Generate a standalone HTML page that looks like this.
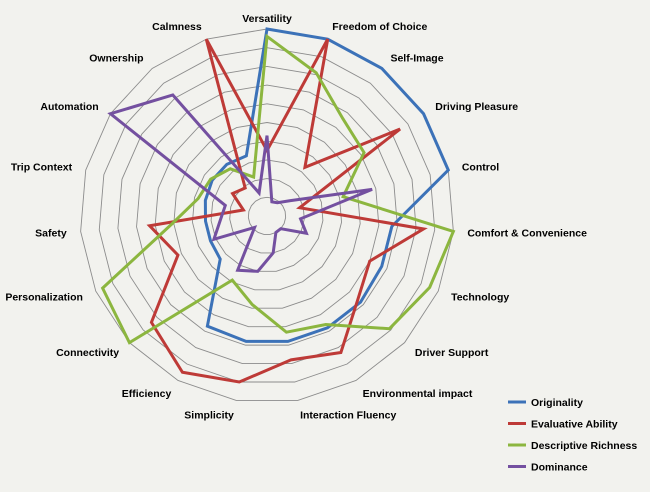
<!DOCTYPE html>
<html><head><meta charset="utf-8"><style>
body{margin:0;background:#f2f2ee;}
svg{display:block;font-family:"Liberation Sans",sans-serif;}
.lbl{font-size:10.5px;font-weight:bold;fill:#000;}
</style></head><body>
<svg id="chart" width="650" height="492" viewBox="0 0 650 492">
<rect width="650" height="492" fill="#f2f2ee"/>
<g id="grid"></g><g id="series"></g><g id="labels"></g><g id="legend"></g>
</svg>
<script>
const categories=["Versatility","Freedom of Choice","Self-Image","Driving Pleasure","Control","Comfort & Convenience","Technology","Driver Support","Environmental impact","Interaction Fluency","Simplicity","Efficiency","Connectivity","Personalization","Safety","Trip Context","Automation","Ownership","Calmness"];
const originality=[10,10,10,10,10,6.7,6.7,6.8,6.8,6.8,6.8,6.7,3.4,3.3,3.3,3.4,3.5,3.5,3.4];
const evaluative=[3.5,10,3.3,8.5,1.8,8.4,6.0,6.6,8.3,7.8,9.0,9.5,8.4,5.2,6.3,1.3,2.2,1.9,10];
const descriptive=[9.6,8.1,6.6,6.2,4.2,10,9.5,8.9,6.6,6.3,4.8,3.9,10,9.6,5.1,3.8,3.6,3.2,2.2];
const dominance=[4.3,0.8,0.9,1.5,5.8,1.8,2.3,1.0,1.0,2.0,3.0,3.3,0.9,3.1,2.5,2.3,10,8.2,1.3];
const seriesNames=["Originality","Evaluative Ability","Descriptive Richness","Dominance"];
const colors=["#3c72b8","#be3a37","#8cb63f","#7450a0"];
const maxVal=10;
const cx=267,cy=216,R=187,N=categories.length;
const NS="http://www.w3.org/2000/svg";
function ang(i){return (-90+i*360/N)*Math.PI/180;}
function pt(i,v){const r=v/maxVal*R;return [cx+r*Math.cos(ang(i)),cy+r*Math.sin(ang(i))];}
const grid=document.getElementById('grid');
for(let k=1;k<=10;k++){
  const p=document.createElementNS(NS,'polygon');
  
  
  p.setAttribute('points',categories.map((c,i)=>pt(i,k*maxVal/10).join(',')).join(' '));
  p.setAttribute('fill','none');p.setAttribute('stroke','#8c8c8c');p.setAttribute('stroke-width','0.9');
  grid.appendChild(p);
}
const sg=document.getElementById('series');
[originality,evaluative,descriptive,dominance].forEach((arr,s)=>{
  const p=document.createElementNS(NS,'polygon');
  
  
  p.setAttribute('points',arr.map((v,i)=>pt(i,v).join(',')).join(' '));
  p.setAttribute('fill','none');p.setAttribute('stroke',colors[s]);p.setAttribute('stroke-width','3');p.setAttribute('stroke-linejoin','miter');
  sg.appendChild(p);
});
const lg=document.getElementById('labels');
categories.forEach((c,i)=>{
  const a=ang(i);const r=R+14;
  let x=cx+r*Math.cos(a),y=cy+r*Math.sin(a)+4;
  const cs=Math.cos(a);
  let anchor='middle';
  if(cs>0.15)anchor='start';else if(cs<-0.15)anchor='end';
  if(i===0)y=cy-R-7;
  const t=document.createElementNS(NS,'text');
  
  
  t.setAttribute('class','lbl');t.setAttribute('x',x);t.setAttribute('y',y);t.setAttribute('text-anchor',anchor);
  t.textContent=c;lg.appendChild(t);
});
const leg=document.getElementById('legend');
seriesNames.forEach((n,s)=>{
  const y=402+s*21.5;
  const l=document.createElementNS(NS,'line');
  
  
  l.setAttribute('x1',508);l.setAttribute('x2',526);l.setAttribute('y1',y);l.setAttribute('y2',y);
  l.setAttribute('stroke',colors[s]);l.setAttribute('stroke-width','3');leg.appendChild(l);
  const t=document.createElementNS(NS,'text');
  
  
  t.setAttribute('class','lbl');t.setAttribute('x',531);t.setAttribute('y',y+4);
  t.textContent=n;leg.appendChild(t);
});
</script>
</body></html>
